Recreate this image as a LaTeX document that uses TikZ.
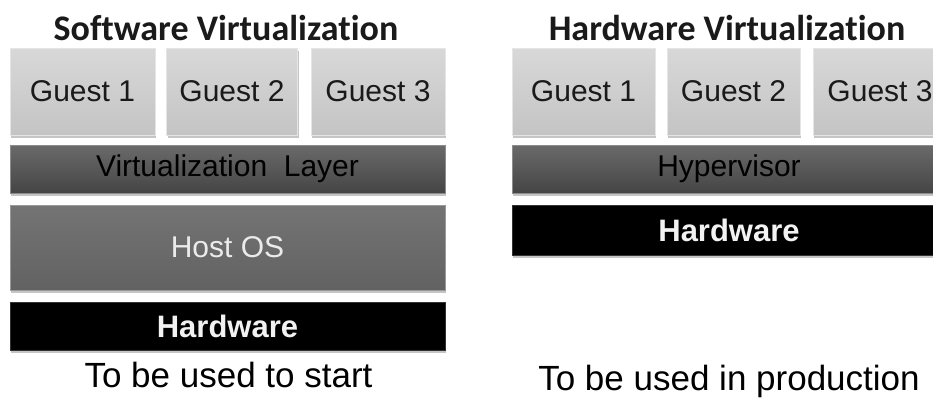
\documentclass[tikz,border=0pt]{standalone}
\usepackage{fontspec}
\setmainfont{Liberation Sans}
\newfontfamily\titlefont[Ligatures=NoCommon]{Carlito}
\usetikzlibrary{shadows}
\definecolor{guesttop}{HTML}{D8D8D8}
\definecolor{guestbot}{HTML}{C4C4C4}
\definecolor{layertop}{HTML}{6A6A6A}
\definecolor{layerbot}{HTML}{454545}
\definecolor{hosttop}{HTML}{747474}
\definecolor{hostbot}{HTML}{626262}
\definecolor{inktext}{HTML}{1A1A1A}
\tikzset{
  box/.style={rectangle, inner sep=0pt, draw=white!80!gray, line width=0.8pt,
    drop shadow={shadow xshift=1pt, shadow yshift=-3pt, fill=black!45}},
  guest/.style={box, top color=guesttop, bottom color=guestbot,
    minimum height=87pt, text=inktext, font=\fontsize{30}{30}\selectfont},
  layer/.style={box, top color=layertop, bottom color=layerbot, draw=gray!90,
    minimum height=48pt, text=black, font=\fontsize{30}{30}\selectfont},
  host/.style={box, top color=hosttop, bottom color=hostbot, draw=gray!80,
    minimum height=85pt, text=white!92!black, font=\fontsize{30}{30}\selectfont},
  hw/.style={box, fill=black, draw=black!80,
    minimum height=48pt, text=white!95!black, font=\fontsize{31}{31}\selectfont\bfseries},
  heading/.style={inner sep=0pt, anchor=base, text=inktext,
    font=\titlefont\fontsize{36}{36}\selectfont\bfseries},
  caption/.style={inner sep=0pt, anchor=base, text=black,
    font=\fontsize{35}{35}\selectfont}
}
\begin{document}
\begin{tikzpicture}[x=1pt, y=-1pt]
  \useasboundingbox (0,0) rectangle (933,402);
  \clip (0,0) rectangle (933,402);
  \fill[white] (0,0) rectangle (933,402);

  % ---- software virtualization stack ----
  \node[heading] (swtitle) at (226,40) {Software Virtualization};
  \node[guest, minimum width=145pt] (sg1) at (82.5,91.5) {Guest 1};
  \node[guest, minimum width=131pt] (sg2) at (232,91.5) {Guest 2};
  \node[guest, minimum width=134pt] (sg3) at (378,91.5) {Guest 3};
  \node[layer, minimum width=435pt] (svl) at (227.5,169) {Virtualization\ \ Layer};
  \node[host, minimum width=435pt] (shost) at (227.5,247.5) {Host OS};
  \node[hw, minimum width=435pt] (shw) at (227.5,326) {Hardware};
  \node[caption] (swnote) at (228.5,387) {To be used to start};

  % ---- hardware virtualization stack ----
  \node[heading] (hwtitle) at (727,40) {Hardware Virtualization};
  \node[guest, minimum width=143pt] (hg1) at (583.5,91.5) {Guest 1};
  \node[guest, minimum width=133pt] (hg2) at (733.5,91.5) {Guest 2};
  \node[guest, minimum width=134pt] (hg3) at (880,91.5) {Guest 3};
  \node[layer, minimum width=434pt] (hyp) at (729,169) {Hypervisor};
  \node[hw, minimum width=434pt, minimum height=50pt] (hhw) at (729,230) {Hardware};
  \node[caption] (hwnote) at (729,390) {To be used in production};
\end{tikzpicture}
\end{document}
